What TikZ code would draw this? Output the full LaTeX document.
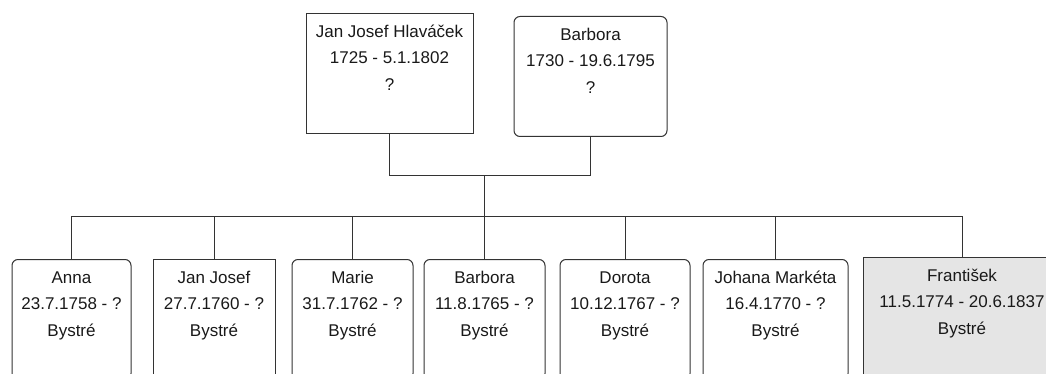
\documentclass[tikz,border=0pt]{standalone}
\usepackage{fontspec}
\setmainfont{Liberation Sans}

\newcommand{\karta}[4]{\parbox[t][110pt][t]{#1pt}{\centering\fontsize{17}{26.7}\selectfont\strut #2\\#3\\#4}}

\begin{document}
\begin{tikzpicture}[x=1pt, y=-1pt, line width=1pt, black!80,
    osoba/.style={draw, anchor=north, inner xsep=0pt, inner ysep=5pt, text=black!90},
    oble/.style={osoba, rounded corners=6pt}]
    \useasboundingbox (0,0) rectangle (1046,374);
    \clip (0,0) rectangle (1046,374);
    % rodice
    \node[osoba] (jjh) at (389.5,13) {\karta{167}{Jan Josef Hlaváček}{1725 - 5.1.1802}{?}};
    \node[oble] (barbora0) at (590.5,16) {\karta{153}{Barbora}{1730 - 19.6.1795}{?}};
    % deti
    \node[oble] (anna) at (71.5,259) {\karta{119}{Anna}{23.7.1758 - ?}{Bystré}};
    \node[osoba] (janjosef) at (214,259) {\karta{122}{Jan Josef}{27.7.1760 - ?}{Bystré}};
    \node[oble] (marie) at (352.5,259) {\karta{121}{Marie}{31.7.1762 - ?}{Bystré}};
    \node[oble] (barbora) at (484.5,259) {\karta{121}{Barbora}{11.8.1765 - ?}{Bystré}};
    \node[oble] (dorota) at (625,259) {\karta{130}{Dorota}{10.12.1767 - ?}{Bystré}};
    \node[oble] (johana) at (775.5,259) {\karta{145}{Johana Markéta}{16.4.1770 - ?}{Bystré}};
    \node[osoba, fill=gray!20] (frantisek) at (962,257) {\karta{198}{František}{11.5.1774 - 20.6.1837}{Bystré}};
    % spojnice
    \coordinate (manzele) at (0,176);
    \coordinate (sourozenci) at (0,216);
    \draw (jjh.south) -- (jjh.south |- manzele) -| (barbora0.south);
    \draw (barbora.north) -- (barbora.north |- manzele);
    \draw (anna.north) -- (anna.north |- sourozenci) -| (frantisek.north);
    \foreach \d in {janjosef, marie, dorota, johana}
        \draw (\d.north) -- (\d.north |- sourozenci);
\end{tikzpicture}
\end{document}
